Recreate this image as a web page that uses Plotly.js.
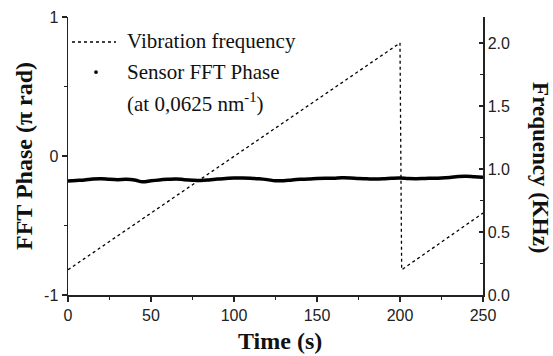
<!DOCTYPE html>
<html>
<head>
<meta charset="utf-8">
<script src="https://cdn.plot.ly/plotly-3.0.1.min.js"></script>
<style>html,body{margin:0;padding:0;background:#fff;}#chart{width:553px;height:356px;}</style>
</head>
<body>
<div id="chart"></div>
<script>
// Vibration frequency (KHz), right axis
var freqTime = [0, 200, 201, 250];
var freqValue = [0.2, 2.0, 0.2, 0.65];

// Sensor FFT phase (pi rad), left axis
var phaseTime = [0,5,10,15,20,25,30,35,40,45,50,55,60,65,70,75,80,85,90,95,100,
  105,110,115,120,125,130,135,140,145,150,155,160,165,170,175,180,185,190,195,200,
  205,210,215,220,225,230,235,240,245,250];
var phaseValue = [-0.180,-0.176,-0.172,-0.166,-0.164,-0.168,-0.170,-0.168,-0.172,-0.186,-0.178,
  -0.172,-0.168,-0.165,-0.170,-0.174,-0.176,-0.172,-0.166,-0.162,-0.158,
  -0.158,-0.160,-0.164,-0.170,-0.178,-0.178,-0.172,-0.168,-0.166,-0.162,
  -0.160,-0.160,-0.157,-0.158,-0.162,-0.164,-0.166,-0.164,-0.160,-0.158,
  -0.162,-0.163,-0.161,-0.160,-0.158,-0.154,-0.148,-0.146,-0.150,-0.152];

var xTicks = [0, 50, 100, 150, 200, 250];
var yLeftTicks = [-1, 0, 1];
var yRightTicks = [0, 0.5, 1.0, 1.5, 2.0];

var serif = "Liberation Serif, Times New Roman, serif";
var sans = "Liberation Sans, Arial, sans-serif";

var traces = [
  {x: phaseTime, y: phaseValue, mode: 'lines', xaxis: 'x', yaxis: 'y',
   line: {color: '#000', width: 3.5, shape: 'spline'}, showlegend: false, name: 'Sensor FFT Phase'},
  {x: freqTime, y: freqValue, mode: 'lines', xaxis: 'x', yaxis: 'y2',
   line: {color: '#000', width: 1.3, dash: '3px,3px'}, showlegend: false, name: 'Vibration frequency'}
];

var layout = {
  width: 553, height: 356,
  margin: {l: 68, r: 70, t: 17, b: 61},
  paper_bgcolor: '#fff', plot_bgcolor: '#fff',
  showlegend: false,
  xaxis: {
    range: [0, 250], tickvals: xTicks, ticktext: xTicks.map(String),
    ticks: 'outside', ticklen: 5, tickwidth: 1.2, tickcolor: '#222',
    minor: {dtick: 25, tick0: 0, ticks: 'outside', ticklen: 3, tickwidth: 1, tickcolor: '#222', showgrid: false},
    showline: true, linecolor: '#222', linewidth: 1.5, showgrid: false, zeroline: false,
    tickfont: {family: sans, size: 16, color: '#222'}
  },
  xaxis2: {
    range: [0, 250], overlaying: 'x', side: 'top', showticklabels: false,
    tickvals: xTicks, ticks: 'inside', ticklen: 5, tickwidth: 1.2, tickcolor: '#222',
    minor: {dtick: 25, tick0: 0, ticks: 'inside', ticklen: 3, tickwidth: 1, tickcolor: '#222', showgrid: false},
    showline: true, linecolor: '#222', linewidth: 1.5, showgrid: false, zeroline: false
  },
  yaxis: {
    range: [-1, 1], tickvals: yLeftTicks, ticktext: ['-1', '0', '1'],
    ticks: 'outside', ticklen: 5, tickwidth: 1.2, tickcolor: '#222',
    minor: {dtick: 0.5, tick0: 0, ticks: 'outside', ticklen: 3, tickwidth: 1, tickcolor: '#222', showgrid: false},
    showline: true, linecolor: '#222', linewidth: 1.5, showgrid: false, zeroline: false,
    tickfont: {family: sans, size: 16, color: '#222'}
  },
  yaxis2: {
    range: [0, 2.206], overlaying: 'y', side: 'right', tickvals: yRightTicks,
    ticktext: yRightTicks.map(function(v){return v.toFixed(1);}),
    ticks: 'inside', ticklen: 4, tickwidth: 1.2, tickcolor: '#222',
    minor: {dtick: 0.25, tick0: 0, ticks: 'inside', ticklen: 3, tickwidth: 1, tickcolor: '#222', showgrid: false},
    showline: true, linecolor: '#222', linewidth: 1.5, showgrid: false, zeroline: false,
    tickfont: {family: sans, size: 16, color: '#222'}
  },
  shapes: [
    {type: 'line', xref: 'paper', yref: 'paper', x0: 0.0096, x1: 0.1157, y0: 0.910, y1: 0.910,
     line: {color: '#000', width: 1.3, dash: '3px,3px'}},
    {type: 'circle', xref: 'paper', yref: 'paper', x0: 0.0675 - 0.0045, x1: 0.0675 + 0.0045,
     y0: 0.802 - 0.0068, y1: 0.802 + 0.0068, fillcolor: '#000', line: {width: 0}}
  ],
  annotations: [
    {text: 'Vibration frequency', xref: 'paper', yref: 'paper', x: 0.137, y: 0.912,
     xanchor: 'left', yanchor: 'middle', showarrow: false, font: {family: serif, size: 21, color: '#111'}},
    {text: 'Sensor FFT Phase', xref: 'paper', yref: 'paper', x: 0.137, y: 0.801,
     xanchor: 'left', yanchor: 'middle', showarrow: false, font: {family: serif, size: 21, color: '#111'}},
    {text: '(at 0,0625 nm<sup>-1</sup>)', xref: 'paper', yref: 'paper', x: 0.137, y: 0.693,
     xanchor: 'left', yanchor: 'middle', showarrow: false, font: {family: serif, size: 21, color: '#111'}},
    {text: '<b>Time (s)</b>', xref: 'paper', yref: 'paper', x: 0.512, y: -0.165,
     xanchor: 'center', yanchor: 'middle', showarrow: false, font: {family: serif, size: 24, color: '#111'}},
    {text: '<b>FFT Phase (π rad)</b>', xref: 'paper', yref: 'paper', x: -0.106, y: 0.5,
     xanchor: 'center', yanchor: 'middle', textangle: -90, showarrow: false, font: {family: serif, size: 24, color: '#111'}},
    {text: '<b>Frequency (KHz)</b>', xref: 'paper', yref: 'paper', x: 1.137, y: 0.457,
     xanchor: 'center', yanchor: 'middle', textangle: 90, showarrow: false, font: {family: serif, size: 23, color: '#111'}}
  ]
};

Plotly.newPlot('chart', traces, layout, {displayModeBar: false, staticPlot: true});
</script>
</body>
</html>
